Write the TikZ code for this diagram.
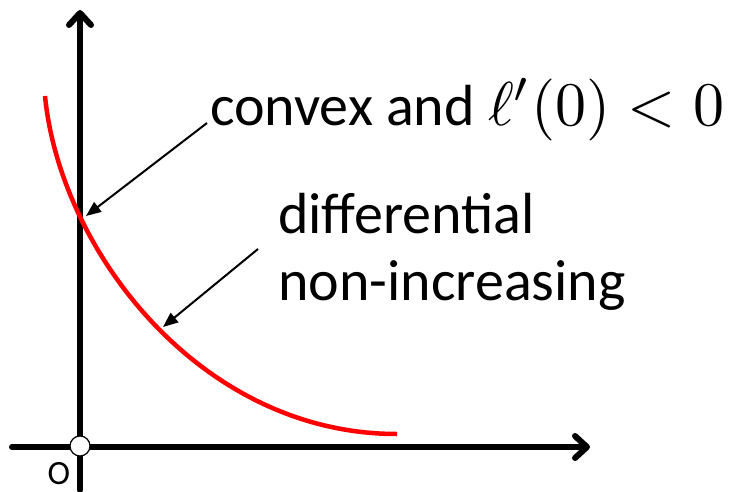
\documentclass[tikz,border=0pt]{standalone}
\usepackage{fontspec}
\setmainfont{Carlito}
\usetikzlibrary{arrows.meta}
\begin{document}
\begin{tikzpicture}[x=1pt,y=-1pt,
  axis/.style={line width=6pt, line cap=round, line join=round,
    -{Straight Barb[length=12pt,width=22pt,line cap=round,line join=round]}},
  pointer/.style={line width=2pt, -{Triangle[length=15pt,width=12pt]}},
  curve/.style={red, line width=4.5pt},
  lbl/.style={inner sep=0pt, font=\fontsize{58}{67}\selectfont, anchor=base west},
  olbl/.style={inner sep=0pt, font=\fontsize{34}{40}\selectfont, anchor=base}]
\useasboundingbox (0,0) rectangle (730,492);
% axes
\coordinate (ybot) at (80,490);
\coordinate (ytop) at (80,10);
\coordinate (xl) at (12,447);
\coordinate (xr) at (590,447);
\draw[axis] (ybot) -- (ytop);
\draw[axis] (xl) -- (xr);
% curve
\coordinate (c0) at (45,96);
\coordinate (c3) at (397,434);
\draw[curve] (c0) .. controls (60,250) and (200,434) .. (c3);
% origin
\node[circle, draw, fill=white, line width=1.2pt, minimum size=20pt, inner sep=0pt] (O) at (80,446) {};
\node[olbl] (Olab) at (59,484) {O};
% labels
\node[lbl] (t1) at (210,125) {convex and \scalebox{6.2}{\fontsize{10}{12}\selectfont$\ell'(0)<0$}};
\node[lbl] (t2) at (278,233) {differential};
\node[lbl] (t3) at (278,300) {non-increasing};
% pointers
\coordinate (a1s) at (207,123);
\coordinate (a1e) at (86,216);
\coordinate (a2s) at (258,249);
\coordinate (a2e) at (163,327);
\draw[pointer] (a1s) -- (a1e);
\draw[pointer] (a2s) -- (a2e);
\end{tikzpicture}
\end{document}
